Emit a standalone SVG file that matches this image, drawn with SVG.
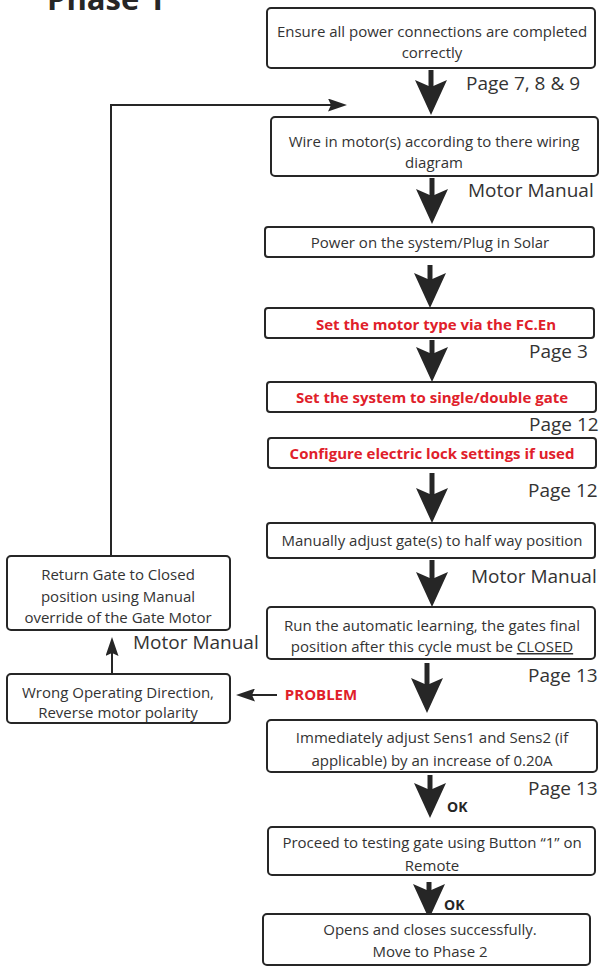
<svg xmlns="http://www.w3.org/2000/svg" width="600" height="974" viewBox="0 0 600 974">
  <style>
    .box { fill: #ffffff; stroke: #262626; stroke-width: 2; }
    .txt { font-family: "Open Sans", "Liberation Sans", sans-serif; font-size: 15px; fill: #333333; text-anchor: middle; }
    .red { font-family: "Open Sans", "Liberation Sans", sans-serif; font-size: 15px; font-weight: 700; fill: #e0202a; text-anchor: middle; }
    .lbl { font-family: "Open Sans", "Liberation Sans", sans-serif; font-size: 19px; fill: #333333; }
    .ok { font-family: "Open Sans", "Liberation Sans", sans-serif; font-size: 14px; font-weight: 700; fill: #262626; }
    .title { font-family: "Open Sans", "Liberation Sans", sans-serif; font-size: 31px; font-weight: 700; fill: #262626; }
    .big { stroke: #262626; stroke-width: 5; fill: none; }
    .thin { stroke: #262626; stroke-width: 2; fill: none; }
  </style>
  <defs>
    <marker id="bigHead" markerUnits="userSpaceOnUse" viewBox="0 0 35 32" refX="7" refY="16" markerWidth="35" markerHeight="32" orient="auto">
      <path d="M0,0 L35,16 L0,32 L7,16 Z" fill="#262626"/>
    </marker>
    <marker id="smallHead" markerUnits="userSpaceOnUse" viewBox="0 0 19 13" refX="3" refY="6.5" markerWidth="19" markerHeight="13" orient="auto">
      <path d="M0,0 L19,6.5 L0,13 L3,6.5 Z" fill="#262626"/>
    </marker>
  </defs>

  <!-- heading, partly above the top edge -->
  <text class="title" x="47" y="10">Phase 1</text>

  <!-- connectors -->
  <g id="connectors">
    <line class="big" x1="431" y1="70" x2="431" y2="87" marker-end="url(#bigHead)"/>
    <line class="big" x1="432" y1="178" x2="432" y2="196" marker-end="url(#bigHead)"/>
    <line class="big" x1="430" y1="265" x2="430" y2="280" marker-end="url(#bigHead)"/>
    <line class="big" x1="432" y1="340" x2="432" y2="354" marker-end="url(#bigHead)"/>
    <line class="big" x1="432" y1="473" x2="432" y2="495" marker-end="url(#bigHead)"/>
    <line class="big" x1="432" y1="560" x2="432" y2="579" marker-end="url(#bigHead)"/>
    <line class="big" x1="427" y1="663" x2="427" y2="685" marker-end="url(#bigHead)"/>
    <line class="big" x1="430" y1="775" x2="430" y2="790" marker-end="url(#bigHead)"/>
    <line class="big" x1="429" y1="882" x2="429" y2="891" marker-end="url(#bigHead)"/>
    <polyline class="thin" points="111,556 111,105 331,105" marker-end="url(#smallHead)"/>
    <line class="thin" x1="112" y1="674" x2="112" y2="653" marker-end="url(#smallHead)"/>
    <line class="thin" x1="277" y1="695" x2="252" y2="695" marker-end="url(#smallHead)"/>
  </g>

  <g id="n-power-connections">
    <rect class="box" x="267" y="8" width="328" height="60" rx="4"/>
    <text class="txt" x="432" y="37">Ensure all power connections are completed</text>
    <text class="txt" x="432" y="58">correctly</text>
  </g>
  <text class="lbl" x="466" y="90">Page 7, 8 &amp; 9</text>

  <g id="n-wire-motor">
    <rect class="box" x="271" y="117" width="327" height="59" rx="4"/>
    <text class="txt" x="434" y="147">Wire in motor(s) according to there wiring</text>
    <text class="txt" x="434" y="168">diagram</text>
  </g>
  <text class="lbl" x="468" y="197">Motor Manual</text>

  <g id="n-power-on">
    <rect class="box" x="265" y="227" width="329" height="30" rx="3"/>
    <text class="txt" x="430" y="248">Power on the system/Plug in Solar</text>
  </g>

  <g id="n-motor-type">
    <rect class="box" x="265" y="308" width="329" height="30" rx="3"/>
    <text class="red" x="436" y="330">Set the motor type via the FC.En</text>
  </g>
  <text class="lbl" x="529" y="358">Page 3</text>

  <g id="n-single-double">
    <rect class="box" x="267" y="382" width="329" height="30" rx="3"/>
    <text class="red" x="432" y="403">Set the system to single/double gate</text>
  </g>
  <text class="lbl" x="529" y="431">Page 12</text>

  <g id="n-electric-lock">
    <rect class="box" x="268" y="438" width="328" height="30" rx="3"/>
    <text class="red" x="432" y="459">Configure electric lock settings if used</text>
  </g>
  <text class="lbl" x="528" y="497">Page 12</text>

  <g id="n-half-way">
    <rect class="box" x="267" y="523" width="328" height="35" rx="3"/>
    <text class="txt" x="432" y="546">Manually adjust gate(s) to half way position</text>
  </g>
  <text class="lbl" x="471" y="583">Motor Manual</text>

  <g id="n-auto-learning">
    <rect class="box" x="267" y="607" width="328" height="52" rx="4"/>
    <text class="txt" x="432" y="631">Run the automatic learning, the gates final</text>
    <text class="txt" x="432" y="652">position after this cycle must be <tspan text-decoration="underline">CLOSED</tspan></text>
  </g>
  <text class="lbl" x="528" y="682">Page 13</text>
  <text class="red" x="321" y="700">PROBLEM</text>

  <g id="n-wrong-direction">
    <rect class="box" x="7" y="674" width="223" height="49" rx="4"/>
    <text class="txt" x="118" y="698">Wrong Operating Direction,</text>
    <text class="txt" x="118" y="718">Reverse motor polarity</text>
  </g>
  <text class="lbl" x="133" y="649">Motor Manual</text>

  <g id="n-return-gate">
    <rect class="box" x="7" y="556" width="223" height="74" rx="4"/>
    <text class="txt" x="118" y="580">Return Gate to Closed</text>
    <text class="txt" x="118" y="602">position using Manual</text>
    <text class="txt" x="118" y="623">override of the Gate Motor</text>
  </g>

  <g id="n-sens-adjust">
    <rect class="box" x="267" y="720" width="330" height="52" rx="4"/>
    <text class="txt" x="432" y="743">Immediately adjust Sens1 and Sens2 (if</text>
    <text class="txt" x="432" y="766">applicable) by an increase of 0.20A</text>
  </g>
  <text class="lbl" x="528" y="795">Page 13</text>
  <text class="ok" x="447" y="812">OK</text>

  <g id="n-test-remote">
    <rect class="box" x="268" y="827" width="327" height="48" rx="4"/>
    <text class="txt" x="432" y="848">Proceed to testing gate using Button “1” on</text>
    <text class="txt" x="432" y="871">Remote</text>
  </g>
  <text class="ok" x="444" y="910">OK</text>

  <g id="n-success">
    <rect class="box" x="263" y="914" width="327" height="51" rx="4"/>
    <text class="txt" x="430" y="935">Opens and closes successfully.</text>
    <text class="txt" x="430" y="957">Move to Phase 2</text>
  </g>
</svg>
